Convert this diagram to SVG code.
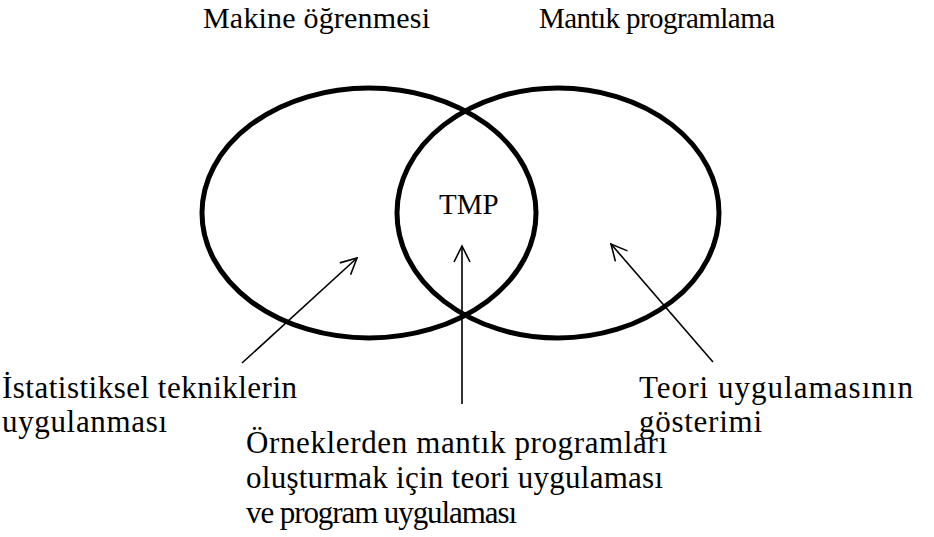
<svg xmlns="http://www.w3.org/2000/svg" width="934" height="537" viewBox="0 0 934 537">
  <style>
    .set { fill: none; stroke: #000; stroke-width: 5; }
    .pointer { fill: none; stroke: #000; stroke-width: 1.6; marker-end: url(#openHead); }
    text { font-family: "Liberation Serif", "Times New Roman", "DejaVu Serif", serif; font-size: 31px; fill: #000; }
    .title { font-size: 29px; }
    .heading { font-size: 30px; }
  </style>
  <defs>
    <marker id="openHead" viewBox="0 0 20 20" refX="18" refY="10" markerWidth="20" markerHeight="20" markerUnits="userSpaceOnUse" orient="auto">
      <path d="M2,2 L18,10 L2,18" fill="none" stroke="#000" stroke-width="1.6"/>
    </marker>
  </defs>
  <rect width="934" height="537" fill="#fff"/>

  <g id="machine-learning">
    <ellipse class="set" cx="369" cy="213" rx="167" ry="125"/>
    <text class="heading" x="203" y="28" textLength="227" lengthAdjust="spacing">Makine öğrenmesi</text>
  </g>

  <g id="logic-programming">
    <ellipse class="set" cx="558" cy="213" rx="161" ry="125"/>
    <text class="title" x="539" y="28" textLength="236" lengthAdjust="spacing">Mantık programlama</text>
  </g>

  <g id="ilp">
    <text class="title" x="439" y="214">TMP</text>
  </g>

  <g id="label-statistics">
    <text x="2" y="398" textLength="295" lengthAdjust="spacing">İstatistiksel tekniklerin</text>
    <text x="2" y="432" textLength="165" lengthAdjust="spacing">uygulanması</text>
  </g>

  <g id="label-ilp">
    <text x="246" y="453" textLength="421" lengthAdjust="spacing">Örneklerden mantık programları</text>
    <text x="246" y="488" textLength="417" lengthAdjust="spacing">oluşturmak için teori uygulaması</text>
    <text x="246" y="523" textLength="271" lengthAdjust="spacing">ve program uygulaması</text>
  </g>

  <g id="label-theory">
    <text x="639" y="398" textLength="274" lengthAdjust="spacing">Teori uygulamasının</text>
    <text x="639" y="432" textLength="123" lengthAdjust="spacing">gösterimi</text>
  </g>

  <g id="connectors">
    <line class="pointer" x1="242" y1="363" x2="357" y2="258"/>
    <line class="pointer" x1="462" y1="404" x2="462" y2="246"/>
    <line class="pointer" x1="713" y1="362" x2="611" y2="244"/>
  </g>
</svg>
